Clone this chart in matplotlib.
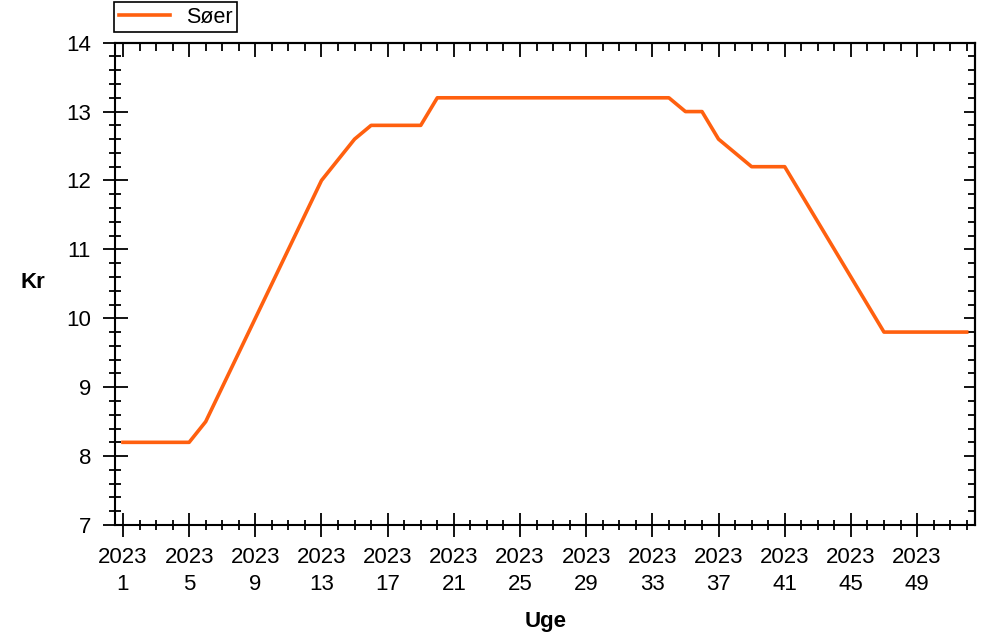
import matplotlib.pyplot as plt
from matplotlib.ticker import FixedLocator, MultipleLocator

plt.rcParams['font.family'] = ['Liberation Sans', 'DejaVu Sans']

# Data
year = 2023
weeks = list(range(1, 53))
prices = [8.2, 8.2, 8.2, 8.2, 8.2, 8.5, 9.0, 9.5, 10.0, 10.5, 11.0, 11.5, 12.0,
          12.3, 12.6, 12.8, 12.8, 12.8, 12.8,
          13.2, 13.2, 13.2, 13.2, 13.2, 13.2, 13.2, 13.2, 13.2, 13.2, 13.2, 13.2,
          13.2, 13.2, 13.2,
          13.0, 13.0, 12.6, 12.4, 12.2, 12.2, 12.2,
          11.8, 11.4, 11.0, 10.6, 10.2,
          9.8, 9.8, 9.8, 9.8, 9.8, 9.8]
series_name = "Søer"
major_weeks = list(range(1, 53, 4))

fig = plt.figure(figsize=(9.87, 6.34), dpi=100)
ax = fig.add_axes([0.1162, 0.1719, 0.8716, 0.7608])

ax.plot(weeks, prices, color='#ff600f', lw=2.6, label=series_name)

ax.set_xlim(0.5, 52.5)
ax.set_ylim(7, 14)

# ticks bottom / left (crossing the axis)
ax.xaxis.set_major_locator(FixedLocator(major_weeks))
ax.xaxis.set_minor_locator(FixedLocator(weeks))
ax.set_xticklabels([f"{year}\n{w}" for w in major_weeks], linespacing=1.4)
ax.yaxis.set_major_locator(MultipleLocator(1))
ax.yaxis.set_minor_locator(MultipleLocator(0.2))

ax.tick_params(which='major', direction='inout', length=17, width=1.3,
               labelsize=16, pad=7, colors='black')
ax.tick_params(which='minor', direction='inout', length=7, width=1.3)
ax.tick_params(axis='y', which='major', length=18, pad=8)
ax.tick_params(axis='y', which='minor', length=8)

# ticks top / right (pointing inwards)
top = ax.secondary_xaxis('top')
top.xaxis.set_major_locator(FixedLocator(major_weeks))
top.xaxis.set_minor_locator(FixedLocator(weeks))
top.tick_params(which='major', direction='in', length=10, width=1.3, labeltop=False)
top.tick_params(which='minor', direction='in', length=5.5, width=1.3)
top.spines['top'].set_linewidth(1.5)

right = ax.secondary_yaxis('right')
right.yaxis.set_major_locator(MultipleLocator(1))
right.yaxis.set_minor_locator(MultipleLocator(0.2))
right.tick_params(which='major', direction='in', length=8, width=1.3, labelright=False)
right.tick_params(which='minor', direction='in', length=5, width=1.3)
right.spines['right'].set_linewidth(1.5)

for s in ax.spines.values():
    s.set_linewidth(1.5)

ax.set_xlabel("Uge", fontsize=16, fontweight='bold')
ax.xaxis.set_label_coords(0.501, -0.201)
ax.xaxis.label.set_va('center')
ax.set_ylabel("Kr", fontsize=16, fontweight='bold', rotation=0)
ax.yaxis.set_label_coords(-0.095, 0.502)
ax.yaxis.label.set_va('center')
ax.yaxis.label.set_ha('center')

leg = fig.legend(loc='lower left', bbox_to_anchor=(114.3 / 987, 1 - 32 / 634),
                 borderaxespad=0, fancybox=False, framealpha=1, edgecolor='black',
                 fontsize=15.5, handlelength=2.4, handletextpad=0.75, borderpad=0.2)
leg.get_frame().set_linewidth(1.2)

fig.savefig('out.png', dpi=100)
